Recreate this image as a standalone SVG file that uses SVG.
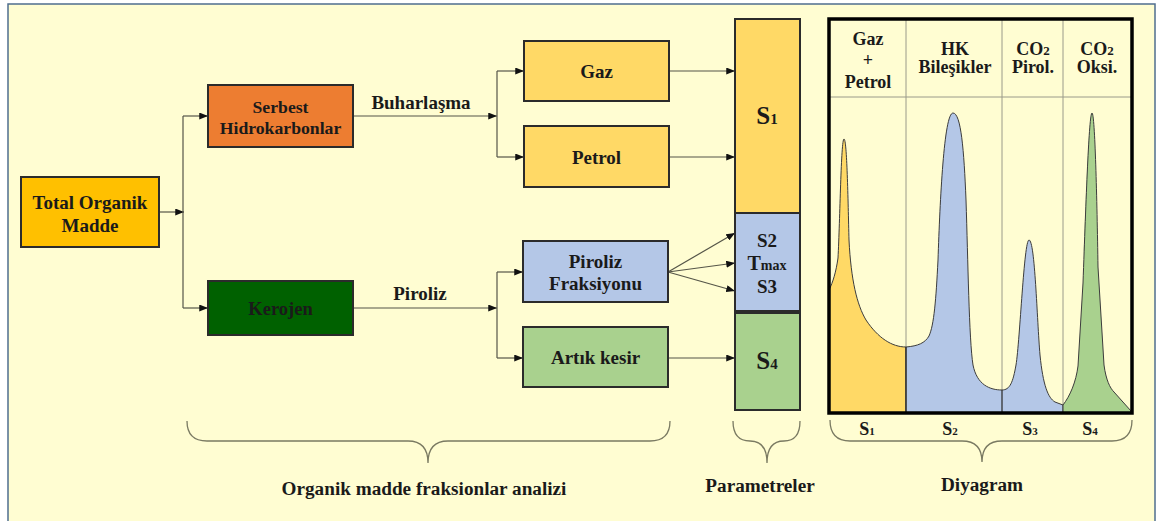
<svg xmlns="http://www.w3.org/2000/svg" width="1157" height="521" viewBox="0 0 1157 521" font-family="'Liberation Serif', 'Times New Roman', Times, 'DejaVu Serif', serif">
<defs>
<style>
text{font-family:'Liberation Serif','Times New Roman',Times,'DejaVu Serif',serif}
.t{font-weight:bold;fill:#1a1a1a;text-anchor:middle}
.box{stroke:#2b2b2b;stroke-width:2}
.c{fill:none;stroke:#555548;stroke-width:1.2}
.br{fill:none;stroke:#7a7a62;stroke-width:1.3}
.pk{stroke:#3c3c3c;stroke-width:1}
.dv{stroke:#9a9a8a;stroke-width:1;fill:none}
</style>
<marker id="ah" viewBox="0 0 10 8" refX="10" refY="4" markerWidth="9" markerHeight="7" markerUnits="userSpaceOnUse" orient="auto">
<path d="M0,0 L10,4 L0,8 Z" fill="#111"/>
</marker>
</defs>
<rect x="0" y="0" width="1157" height="521" fill="#ffffff"/>
<rect x="8" y="4" width="1147" height="530" fill="#FFFDD2" stroke="#4f6e8e" stroke-width="1.5"/>

<g id="connectors">
<path class="c" d="M159,212 L184,212" marker-end="url(#ah)"/>
<path class="c" d="M183,116 L183,308"/>
<path class="c" d="M183,116 L208,116" marker-end="url(#ah)"/>
<path class="c" d="M183,308 L208,308" marker-end="url(#ah)"/>
<path class="c" d="M353,116 L497,116" marker-end="url(#ah)"/>
<path class="c" d="M497,71 L497,157"/>
<path class="c" d="M497,71 L524,71" marker-end="url(#ah)"/>
<path class="c" d="M497,157 L524,157" marker-end="url(#ah)"/>
<path class="c" d="M353,308 L497,308" marker-end="url(#ah)"/>
<path class="c" d="M497,272 L497,358"/>
<path class="c" d="M497,272 L523,272" marker-end="url(#ah)"/>
<path class="c" d="M497,358 L523,358" marker-end="url(#ah)"/>
<path class="c" d="M669,71 L735,71" marker-end="url(#ah)"/>
<path class="c" d="M669,157 L735,157" marker-end="url(#ah)"/>
<path class="c" d="M668,272 L735,233" marker-end="url(#ah)"/>
<path class="c" d="M668,272 L735,263" marker-end="url(#ah)"/>
<path class="c" d="M668,272 L735,291" marker-end="url(#ah)"/>
<path class="c" d="M668,358 L735,358" marker-end="url(#ah)"/>
<text class="t" x="421" y="109" font-size="19">Buharlaşma</text>
<text class="t" x="420" y="300" font-size="19">Piroliz</text>
</g>

<g id="node-tom">
<rect class="box" x="21" y="177" width="138" height="70" fill="#FFC000"/>
<text class="t" x="90" y="209" font-size="19">Total Organik</text>
<text class="t" x="90" y="232" font-size="19">Madde</text>
</g>
<g id="node-serbest">
<rect class="box" x="208" y="85" width="145" height="62" fill="#ED7D31"/>
<text class="t" x="280.5" y="113" font-size="17.7">Serbest</text>
<text class="t" x="280.5" y="134" font-size="17.7">Hidrokarbonlar</text>
</g>
<g id="node-kerojen">
<rect class="box" x="208" y="281" width="145" height="54" fill="#006100"/>
<text class="t" x="280.5" y="315" font-size="18.5">Kerojen</text>
</g>
<g id="node-gaz">
<rect class="box" x="524" y="41" width="145" height="60" fill="#FFD966"/>
<text class="t" x="596.5" y="78" font-size="19">Gaz</text>
</g>
<g id="node-petrol">
<rect class="box" x="524" y="126" width="145" height="61" fill="#FFD966"/>
<text class="t" x="596.5" y="164" font-size="19">Petrol</text>
</g>
<g id="node-piroliz">
<rect class="box" x="523" y="241" width="145" height="61" fill="#B4C7E7"/>
<text class="t" x="595.5" y="268" font-size="19">Piroliz</text>
<text class="t" x="595.5" y="290" font-size="19">Fraksiyonu</text>
</g>
<g id="node-artik">
<rect class="box" x="523" y="327" width="145" height="60" fill="#A9D18E"/>
<text class="t" x="595.5" y="364" font-size="19">Artık kesir</text>
</g>
<g id="node-s1">
<rect class="box" x="735" y="19" width="65" height="194" fill="#FFD966"/>
<text class="t" x="767" y="124" font-size="25">S<tspan font-size="15">1</tspan></text>
</g>
<g id="node-s2s3">
<rect class="box" x="735" y="213" width="65" height="98" fill="#B4C7E7"/>
<text class="t" x="767" y="247" font-size="19">S2</text>
<text class="t" x="767" y="270" font-size="20">T<tspan font-size="14">max</tspan></text>
<text class="t" x="767" y="293" font-size="19">S3</text>
</g>
<g id="node-s4">
<rect class="box" x="735" y="313" width="65" height="97" fill="#A9D18E"/>
<text class="t" x="767" y="369" font-size="25">S<tspan font-size="15">4</tspan></text>
</g>

<g id="braces">
<path class="br" d="M187,421 Q187,441 207,441 L408,441 Q428,441 428,463 Q428,441 448,441 L650,441 Q670,441 670,421"/>
<path class="br" d="M733,421 Q733,441 750,441 Q767,441 767,463 Q767,441 784,441 Q800,441 800,421"/>
<path class="br" d="M830,420 Q830,441 850,441 L962,441 Q982,441 982,462 Q982,441 1002,441 L1112,441 Q1132,441 1132,420"/>
<text class="t" x="424" y="495" font-size="19.2">Organik madde fraksionlar analizi</text>
<text class="t" x="760" y="492" font-size="19.2">Parametreler</text>
<text class="t" x="982" y="491" font-size="19.2">Diyagram</text>
</g>

<g id="diagram">
<path class="dv" d="M829,97 L1132,97 M906,19 L906,347 M1002,19 L1002,390 M1063,19 L1063,405"/>
<path class="pk" fill="#FFD966" d="M829,290 C833,282 836,272 838,258 C840,220 841,139 844,139 C847,139 848,200 849,240 C851,280 857,305 866,320 C878,338 892,347 906,347 L906,413 L829,413 Z"/>
<path class="pk" fill="#B4C7E7" d="M906,347 C918,346 925,343 929,336 C934,325 936,300 938,260 C940,200 944,113 953,113 C961,113 964,150 966,200 C968,260 969,340 973,365 C977,385 990,390 1002,390 C1010,390 1013,382 1016,365 C1020,340 1024,240 1029,240 C1035,240 1037,320 1040,355 C1043,385 1048,398 1055,402 L1063,405 L1063,413 L906,413 Z"/>
<path class="pk" fill="#A9D18E" d="M1063,405 C1070,396 1076,382 1078,366 L1083,283 C1086,200 1089,113 1092,113 C1095,113 1097,200 1098,267 L1104,365 C1106,380 1110,388 1114,392 L1131,411 L1131,413 L1063,413 Z"/>
<path d="M906,347 L906,413 M1002,390 L1002,413" stroke="#333" stroke-width="1.3"/>
<rect x="829" y="19" width="303" height="394" fill="none" stroke="#000" stroke-width="3.5"/>
<text class="t" x="868" y="45" font-size="18">Gaz</text>
<text class="t" x="868" y="66" font-size="18">+</text>
<text class="t" x="868" y="88" font-size="18">Petrol</text>
<text class="t" x="955" y="55" font-size="18">HK</text>
<text class="t" x="955" y="73" font-size="18">Bileşikler</text>
<text class="t" x="1033" y="55" font-size="18">CO<tspan font-size="13">2</tspan></text>
<text class="t" x="1033" y="73" font-size="18">Pirol.</text>
<text class="t" x="1097" y="55" font-size="18">CO<tspan font-size="13">2</tspan></text>
<text class="t" x="1097" y="73" font-size="18">Oksi.</text>
<text class="t" x="867" y="435" font-size="18">S<tspan font-size="11">1</tspan></text>
<text class="t" x="950" y="435" font-size="18">S<tspan font-size="11">2</tspan></text>
<text class="t" x="1030" y="435" font-size="18">S<tspan font-size="11">3</tspan></text>
<text class="t" x="1090" y="435" font-size="18">S<tspan font-size="11">4</tspan></text>
</g>
</svg>
